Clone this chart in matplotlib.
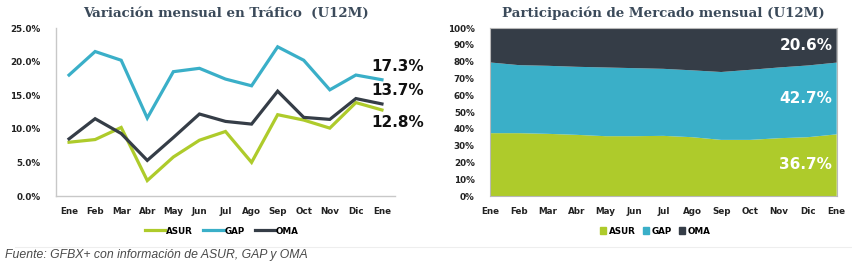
import matplotlib
matplotlib.use("Agg")
import matplotlib.pyplot as plt
import numpy as np
from matplotlib.lines import Line2D
from matplotlib.patches import Patch

months = ["Ene", "Feb", "Mar", "Abr", "May", "Jun", "Jul", "Ago", "Sep", "Oct", "Nov", "Dic", "Ene"]

# Left chart: monthly traffic change (%)
asur_var = [8.0, 8.4, 10.2, 2.3, 5.8, 8.3, 9.6, 5.0, 12.1, 11.3, 10.1, 13.9, 12.8]
gap_var = [18.0, 21.5, 20.2, 11.6, 18.5, 19.0, 17.4, 16.4, 22.2, 20.2, 15.8, 18.0, 17.3]
oma_var = [8.5, 11.5, 9.3, 5.3, 8.7, 12.2, 11.1, 10.7, 15.6, 11.7, 11.4, 14.5, 13.7]

# Right chart: market share (%)
asur_share = [37.4, 37.4, 37.0, 36.4, 35.6, 35.6, 35.8, 35.0, 33.4, 33.4, 34.4, 35.0, 36.7]
gap_share = [42.1, 40.5, 40.5, 40.5, 40.9, 40.5, 39.9, 39.8, 40.4, 41.7, 42.1, 42.7, 42.7]
oma_share = [round(100 - a - g, 1) for a, g in zip(asur_share, gap_share)]

c_asur = "#AECB2B"
c_gap = "#3AAFC8"
c_oma = "#353D47"
title_c = "#3B4A5A"

fig = plt.figure(figsize=(8.52, 2.65), dpi=100)
fig.patch.set_facecolor("white")

tick_font = dict(family="DejaVu Sans", weight="bold", size=6.3)

# ---------- Left chart ----------
ax1 = fig.add_axes([56/852, 1-196/265, (395-56)/852, (196-28)/265])
x = np.arange(len(months))
ax1.plot(x, asur_var, color=c_asur, lw=2.3, solid_joinstyle="miter")
ax1.plot(x, gap_var, color=c_gap, lw=2.3, solid_joinstyle="miter")
ax1.plot(x, oma_var, color=c_oma, lw=2.3, solid_joinstyle="miter")
ax1.set_xlim(-0.5, 12.5)
ax1.set_ylim(0, 25)
ax1.set_yticks([0, 5, 10, 15, 20, 25])
ax1.set_yticklabels([f"{v:.1f}%" for v in [0, 5, 10, 15, 20, 25]], **tick_font, color="#222222")
ax1.set_xticks(x)
ax1.set_xticklabels(months, **tick_font, color="#222222")
for s in ["top", "right"]:
    ax1.spines[s].set_visible(False)
for s in ["left", "bottom"]:
    ax1.spines[s].set_color("#C8C8C8")
    ax1.spines[s].set_linewidth(1.0)
ax1.tick_params(length=0, pad=8)
ax1.tick_params(axis="y", pad=11)
ax1.set_title("Variación mensual en Tráfico  (U12M)", fontfamily="DejaVu Serif",
              fontweight="bold", fontsize=9.6, color=title_c, pad=8)
ann_font = dict(family="DejaVu Sans", weight="bold", size=11, color="#111111")
ax1.text(11.6, gap_var[-1] + 2.0, f"{gap_var[-1]:.1f}%", va="center", ha="left", **ann_font)
ax1.text(11.6, oma_var[-1] + 2.0, f"{oma_var[-1]:.1f}%", va="center", ha="left", **ann_font)
ax1.text(11.6, asur_var[-1] - 1.8, f"{asur_var[-1]:.1f}%", va="center", ha="left", **ann_font)

handles1 = [Line2D([0], [0], color=c, lw=2.3) for c in (c_asur, c_gap, c_oma)]
fig.legend(handles1, ["ASUR", "GAP", "OMA"], loc="center", ncol=3,
           bbox_to_anchor=(222/852, 1-231/265), frameon=False,
           prop=dict(family="DejaVu Sans", weight="bold", size=6.3),
           handlelength=2.3, handletextpad=0.1, columnspacing=1.2)

# ---------- Right chart ----------
ax2 = fig.add_axes([490/852, 1-196/265, (836.7-490)/852, (196-28)/265])
ax2.stackplot(x, asur_share, gap_share, oma_share, colors=[c_asur, c_gap, c_oma], lw=0)
ax2.set_xlim(0, 12)
ax2.set_ylim(0, 100)
ax2.set_yticks(np.arange(0, 101, 10))
ax2.set_yticklabels([f"{v}%" for v in range(0, 101, 10)], **tick_font, color="#222222")
ax2.set_xticks(x)
ax2.set_xticklabels(months, **tick_font, color="#222222")
for s in ax2.spines.values():
    s.set_color("#B8B8B8")
    s.set_linewidth(0.8)
ax2.tick_params(length=0, pad=8)
ax2.tick_params(axis="y", pad=11)
ax2.set_title("Participación de Mercado mensual (U12M)", fontfamily="DejaVu Serif",
              fontweight="bold", fontsize=9.6, color=title_c, pad=8)
wfont = dict(family="DejaVu Sans", weight="bold", size=11, color="white")
ax2.text(11.85, 89.5, f"{oma_share[-1]:.1f}%", ha="right", va="center", **wfont)
ax2.text(11.85, 58.0, f"{gap_share[-1]:.1f}%", ha="right", va="center", **wfont)
ax2.text(11.85, 18.5, f"{asur_share[-1]:.1f}%", ha="right", va="center", **wfont)

handles2 = [Patch(color=c) for c in (c_asur, c_gap, c_oma)]
fig.legend(handles2, ["ASUR", "GAP", "OMA"], loc="center", ncol=3,
           bbox_to_anchor=(655/852, 1-231/265), frameon=False,
           prop=dict(family="DejaVu Sans", weight="bold", size=6.3),
           handlelength=0.7, handleheight=0.7, handletextpad=0.3, columnspacing=0.8)

# footer
fig.add_artist(Line2D([15/852, 1.0], [1-247/265, 1-247/265], color="#EEEEEE", lw=0.8))
fig.text(5/852, 1-255/265, "Fuente: GFBX+ con información de ASUR, GAP y OMA",
         family="Liberation Sans", style="italic", size=8.8, color="#4A4A4A", va="center")

fig.savefig("out.png", dpi=100, facecolor="white")
